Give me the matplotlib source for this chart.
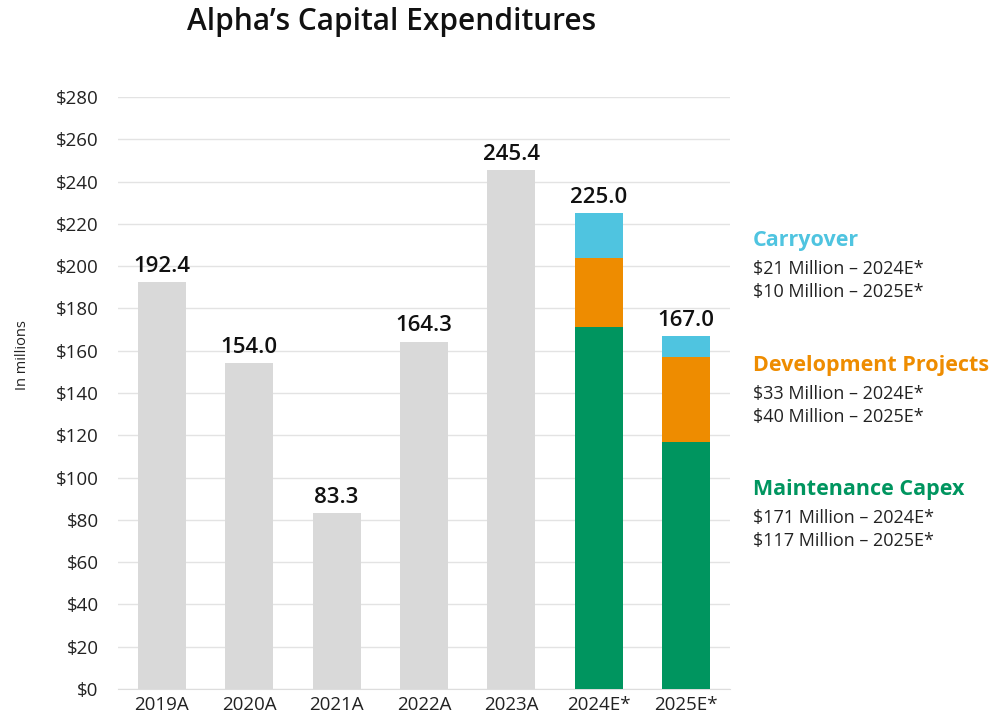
import matplotlib
matplotlib.use("Agg")
import matplotlib.pyplot as plt

categories = ["2019A", "2020A", "2021A", "2022A", "2023A", "2024E*", "2025E*"]
actual_values = [192.4, 154.0, 83.3, 164.3, 245.4]
maintenance = [171, 117]
development = [33, 40]
carryover = [21, 10]
totals_est = [225.0, 167.0]
yticks = list(range(0, 281, 20))

GREY = "#d9d9d9"
GREEN = "#00955f"
ORANGE = "#ee8c00"
CYAN = "#4fc4e0"

plt.rcParams['font.family'] = ['Open Sans', 'DejaVu Sans']

fig = plt.figure(figsize=(9.96, 7.23), dpi=100)
ax = fig.add_axes([118/996, 34/723, (730-118)/996, (689-97)/723])

w = 0.55
xa = list(range(len(actual_values)))
ax.bar(xa, actual_values, width=w, color=GREY, zorder=2)
xe = [5, 6]
ax.bar(xe, maintenance, width=w, color=GREEN, zorder=2)
ax.bar(xe, development, width=w, bottom=maintenance, color=ORANGE, zorder=2)
bot2 = [m + d for m, d in zip(maintenance, development)]
ax.bar(xe, carryover, width=w, bottom=bot2, color=CYAN, zorder=2)

for x, v in zip(xa + xe, actual_values + totals_est):
    ax.text(x, v + 2.5, f"{v:.1f}", ha="center", va="bottom", fontsize=16,
            fontweight="semibold", color="#111111")

ax.set_xlim(-0.5, 6.5)
ax.set_ylim(0, 280)
ax.set_yticks(yticks)
ax.set_yticklabels([f"${t}" for t in yticks], fontsize=13.5, color="#222222")
ax.set_xticks(range(len(categories)))
ax.set_xticklabels(categories, fontsize=13.5, color="#222222")
ax.tick_params(axis="both", length=0)
ax.tick_params(axis="y", pad=14)
ax.tick_params(axis="x", pad=5)
ax.grid(axis="y", color="#e3e3e3", linewidth=1, zorder=0)
for s in ["top", "right", "left"]:
    ax.spines[s].set_visible(False)
ax.spines["bottom"].set_color("#dddddd")
ax.spines["bottom"].set_zorder(1)

fig.text(22/996, 1 - 355/723, "In millions", rotation=90, ha="center", va="center",
         fontsize=10.5, color="#222222")

fig.text(392/996, 1 - 22/723, "Alpha\u2019s Capital Expenditures", ha="center", va="center",
         fontsize=21.5, fontweight="semibold", color="#111111")

legend_blocks = [
    ("Carryover", CYAN, 241, ["$21 Million \u2013 2024E*", "$10 Million \u2013 2025E*"]),
    ("Development Projects", ORANGE, 366, ["$33 Million \u2013 2024E*", "$40 Million \u2013 2025E*"]),
    ("Maintenance Capex", GREEN, 490, ["$171 Million \u2013 2024E*", "$117 Million \u2013 2025E*"]),
]
for head, col, ypix, lines in legend_blocks:
    fig.text(753/996, 1 - ypix/723, head, ha="left", va="center", fontsize=15.5,
             fontweight="bold", color=col)
    for i, ln in enumerate(lines):
        fig.text(753/996, 1 - (ypix + 28 + 23*i)/723, ln, ha="left", va="center",
                 fontsize=13, color="#222222")

fig.savefig("out.png", dpi=100)
